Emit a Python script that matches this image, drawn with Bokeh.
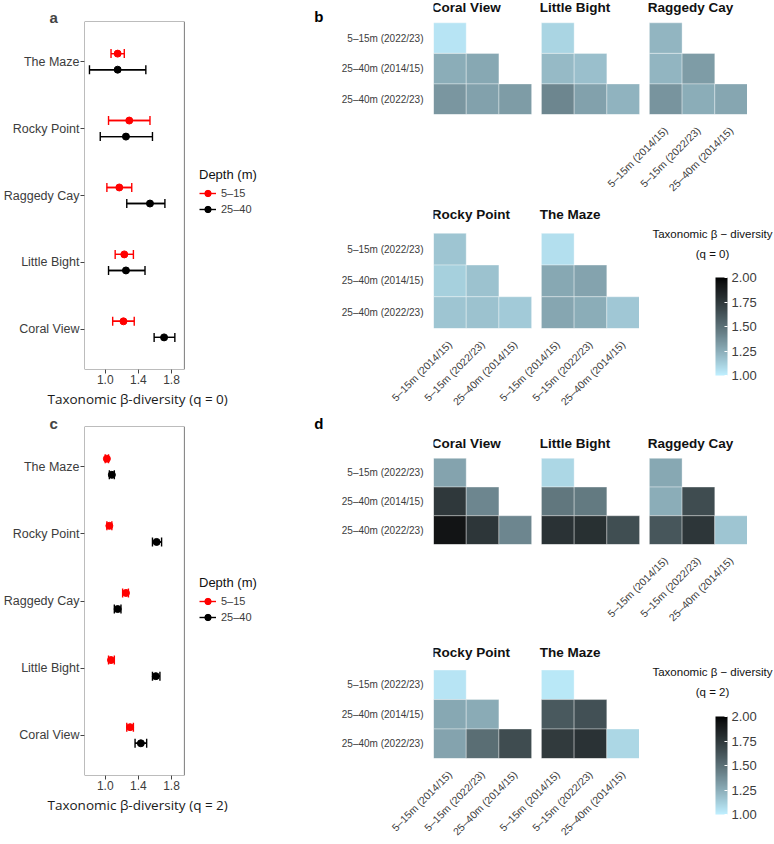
import math
import numpy as np
from bokeh.plotting import figure
from bokeh.models import (ColumnDataSource, Range1d, FixedTicker, NumeralTickFormatter, LinearAxis,
                          Whisker, TeeHead, Legend, LegendItem, LinearColorMapper, Title,
                          BoxAnnotation, ColorBar, Label)
from bokeh.layouts import row, column
from bokeh.core.properties import value
from bokeh.embed import file_html
from bokeh.resources import INLINE

# ---------------- data ----------------
sites = ["Coral View", "Little Bight", "Raggedy Cay", "Rocky Point", "The Maze"]
depth_labels = ["5–15", "25–40"]

# panel a : q = 0  (mean, lower, upper) in site order
q0_shallow = [1.22, 1.23, 1.17, 1.29, 1.15]
q0_shallow_lo = [1.09, 1.12, 1.02, 1.04, 1.07]
q0_shallow_hi = [1.35, 1.34, 1.32, 1.54, 1.23]
q0_deep = [1.71, 1.25, 1.54, 1.25, 1.15]
q0_deep_lo = [1.59, 1.04, 1.26, 0.94, 0.81]
q0_deep_hi = [1.84, 1.48, 1.72, 1.57, 1.49]

# panel c : q = 2
q2_shallow = [1.30, 1.07, 1.25, 1.05, 1.02]
q2_shallow_lo = [1.26, 1.04, 1.21, 1.02, 1.00]
q2_shallow_hi = [1.34, 1.11, 1.28, 1.08, 1.04]
q2_deep = [1.43, 1.61, 1.15, 1.62, 1.08]
q2_deep_lo = [1.36, 1.57, 1.11, 1.57, 1.05]
q2_deep_hi = [1.50, 1.66, 1.19, 1.68, 1.11]

x_ticks = [1.0, 1.4, 1.8]

# heatmaps
col_labels = ["5–15m (2014/15)", "5–15m (2022/23)", "25–40m (2014/15)"]
row_labels = ["5–15m (2022/23)", "25–40m (2014/15)", "25–40m (2022/23)"]
pair_col = [col_labels[0], col_labels[0], col_labels[1], col_labels[0], col_labels[1], col_labels[2]]
pair_row = [row_labels[0], row_labels[1], row_labels[1], row_labels[2], row_labels[2], row_labels[2]]

beta_q0 = {
    "Coral View":   [1.04, 1.25, 1.27, 1.34, 1.30, 1.32],
    "Little Bight": [1.10, 1.20, 1.18, 1.41, 1.30, 1.23],
    "Raggedy Cay":  [1.22, 1.22, 1.32, 1.35, 1.25, 1.28],
    "Rocky Point":  [1.16, 1.12, 1.17, 1.16, 1.17, 1.14],
    "The Maze":     [1.06, 1.27, 1.29, 1.28, 1.25, 1.15],
}
beta_q2 = {
    "Coral View":   [1.29, 1.75, 1.41, 1.93, 1.76, 1.41],
    "Little Bight": [1.09, 1.47, 1.46, 1.78, 1.79, 1.65],
    "Raggedy Cay":  [1.27, 1.25, 1.66, 1.61, 1.76, 1.16],
    "Rocky Point":  [1.04, 1.27, 1.26, 1.29, 1.51, 1.66],
    "The Maze":     [1.03, 1.60, 1.64, 1.74, 1.78, 1.09],
}
cb_ticks = [1.0, 1.25, 1.5, 1.75, 2.0]

FONT = "Liberation Sans"
TXT = "#3c3c3c"


# ---------------- colour ramp (CIELAB, like ggplot) ----------------
def _lin(c):
    return c / 12.92 if c <= 0.04045 else ((c + 0.055) / 1.055) ** 2.4


def _gam(c):
    return 12.92 * c if c <= 0.0031308 else 1.055 * c ** (1 / 2.4) - 0.055


def hex2lab(h):
    r, g, b = [_lin(int(h[i:i + 2], 16) / 255) for i in (1, 3, 5)]
    X = (0.4124 * r + 0.3576 * g + 0.1805 * b) / 0.95047
    Y = 0.2126 * r + 0.7152 * g + 0.0722 * b
    Z = (0.0193 * r + 0.1192 * g + 0.9505 * b) / 1.08883
    f = lambda t: t ** (1 / 3) if t > 0.008856 else 7.787 * t + 16 / 116
    fx, fy, fz = f(X), f(Y), f(Z)
    return 116 * fy - 16, 500 * (fx - fy), 200 * (fy - fz)


def lab2hex(L, a, b):
    fy = (L + 16) / 116
    fx = fy + a / 500
    fz = fy - b / 200
    finv = lambda t: t ** 3 if t ** 3 > 0.008856 else (t - 16 / 116) / 7.787
    X, Y, Z = finv(fx) * 0.95047, finv(fy), finv(fz) * 1.08883
    r = 3.2406 * X - 1.5372 * Y - 0.4986 * Z
    g = -0.9689 * X + 1.8758 * Y + 0.0415 * Z
    bb = 0.0557 * X - 0.2040 * Y + 1.0570 * Z
    out = [int(round(255 * min(1, max(0, _gam(max(0, c)))))) for c in (r, g, bb)]
    return "#%02x%02x%02x" % tuple(out)


low_lab = hex2lab("#BFEFFF")
high_lab = hex2lab("#000000")
palette = [lab2hex(*[lo + (hi - lo) * t for lo, hi in zip(low_lab, high_lab)])
           for t in np.linspace(0, 1, 256)]
mapper = LinearColorMapper(palette=palette, low=1.0, high=2.0)

COLORS = ["#ff0000", "#000000"]
X_LO, X_HI = 0.75, 1.955      # visible data window of panels a / c
PANEL_W, LEG_W = 101, 79      # px: data panel, legend area to its right


# ---------------- point-range panels ----------------
def pr_fig(sh, sh_lo, sh_hi, dp, dp_lo, dp_hi, xlabel, height, top, bottom, cap, letter,
           letter_standoff, leg_y):
    x_end = X_LO + (X_HI - X_LO) * (PANEL_W + LEG_W) / PANEL_W
    p = figure(width=82 + PANEL_W + LEG_W, height=height, x_range=Range1d(X_LO, x_end),
               y_range=Range1d(0.4, 5.6), toolbar_location=None, output_backend="svg",
               min_border_left=82, min_border_right=0, min_border_top=top, min_border_bottom=bottom)
    p.grid.visible = False
    p.outline_line_color = None
    p.add_layout(BoxAnnotation(left=X_LO, right=X_HI, bottom=0.4, top=5.6, fill_alpha=0,
                               line_color="#7a7a7a", line_alpha=1, line_width=1))
    items = []
    for means, los, his, col, off, lab in [(sh, sh_lo, sh_hi, COLORS[0], 0.12, depth_labels[0]),
                                           (dp, dp_lo, dp_hi, COLORS[1], -0.12, depth_labels[1])]:
        src = ColumnDataSource(dict(y=[i + 1 + off for i in range(len(sites))], m=means, lo=los, hi=his))
        rl = p.segment(x0="lo", y0="y", x1="hi", y1="y", source=src, line_color=col, line_width=1.4)
        w = Whisker(base="y", lower="lo", upper="hi", dimension="width", source=src,
                    line_color=col, line_width=1.4,
                    lower_head=TeeHead(size=cap, line_color=col, line_width=1.4),
                    upper_head=TeeHead(size=cap, line_color=col, line_width=1.4))
        p.add_layout(w)
        rp = p.scatter("m", "y", source=src, size=7, color=col)
        items.append(LegendItem(label=lab, renderers=[rl, rp]))

    leg = Legend(items=items, title="Depth (m)", location=(PANEL_W + 14, leg_y))
    leg.title_text_font = FONT
    leg.title_text_font_size = "13px"
    leg.title_text_font_style = "normal"
    leg.title_text_color = "#111111"
    leg.title_standoff = 3
    leg.label_text_font = FONT
    leg.label_text_font_size = "11px"
    leg.label_text_color = TXT
    leg.glyph_width = 17
    leg.glyph_height = 16
    leg.label_height = 16
    leg.spacing = 0
    leg.padding = 0
    leg.margin = 0
    leg.label_standoff = 5
    leg.border_line_color = None
    leg.background_fill_alpha = 0
    p.add_layout(leg)

    p.yaxis.ticker = FixedTicker(ticks=[i + 1 for i in range(len(sites))])
    p.yaxis.major_label_overrides = {i + 1: s for i, s in enumerate(sites)}
    p.xaxis.ticker = FixedTicker(ticks=x_ticks)
    p.xaxis.formatter = NumeralTickFormatter(format="0.0")
    for ax in (p.xaxis[0], p.yaxis[0]):
        ax.axis_line_color = None
        ax.major_tick_out = 4
        ax.major_tick_in = 0
        ax.major_tick_line_color = "#444444"
        ax.minor_tick_line_color = None
        ax.major_label_text_font = FONT
        ax.major_label_text_font_size = "12.5px"
        ax.major_label_text_color = TXT
        ax.major_label_standoff = 1
    p.xaxis.major_label_text_font_size = "12px"
    p.xaxis.major_label_standoff = 1
    # x-axis title, left-aligned under the data panel like the original
    p.add_layout(Title(text=xlabel, align="left", offset=-37, standoff=3,
                       text_font="Open Sans", text_font_size="13.5px", text_font_style="normal",
                       text_color="#1a1a1a"), "below")
    p.title.text = letter
    p.title.align = "left"
    p.title.offset = -35
    p.title.standoff = letter_standoff
    p.title.text_font = FONT
    p.title.text_font_size = "15px"
    p.title.text_font_style = "bold"
    return p


# ---------------- heatmap rows (facets of one row share one frame) ----------------
U = 32.7      # pixels per tile
G = 0.3       # gap between facets, in tiles
col_idx = [col_labels.index(c) for c in pair_col]
row_idx = [row_labels.index(r) for r in pair_row]


def heat_row(beta, facets, xlab_facets, height, title_c, tiles_top, letter=None, letter_c=0):
    nf = len(facets)
    xend = nf * 3 + (nf - 1) * G
    fw = int(round(xend * U))
    fh = tiles_top + 98
    p = figure(width=171 + fw, height=height,
               x_range=Range1d(0, xend), y_range=Range1d(0, fh / U),
               toolbar_location=None, output_backend="svg",
               min_border_left=171, min_border_right=0, min_border_top=0,
               min_border_bottom=height - fh)
    xs, ys, vs = [], [], []
    for k, site in enumerate(facets):
        for c, r, v in zip(col_idx, row_idx, beta[site]):
            xs.append(k * (3 + G) + c + 0.5)
            ys.append(2 - r + 0.5)
            vs.append(v)
    src = ColumnDataSource(dict(x=xs, y=ys, v=vs))
    p.rect(x="x", y="y", width=1, height=1, source=src,
           fill_color={"field": "v", "transform": mapper},
           line_color="white", line_width=0.7, line_alpha=0.5)
    tsrc = ColumnDataSource(dict(x=[k * (3 + G) - 0.05 for k in range(nf)],
                                 y=[3 + (tiles_top - title_c) / U] * nf, t=facets))
    p.text(x="x", y="y", text="t", source=tsrc, text_font=value(FONT), text_font_size="13.5px",
           text_font_style="bold", text_align="left", text_baseline="middle", text_color="#111111")
    p.grid.visible = False
    p.outline_line_color = None
    ticks, over = [], {}
    for k, site in enumerate(facets):
        if site in xlab_facets:
            for c in range(3):
                t = round(k * (3 + G) + c + 0.5, 4)
                ticks.append(t)
                over[t] = col_labels[c]
    p.xaxis.ticker = FixedTicker(ticks=ticks)
    p.xaxis.major_label_overrides = over
    p.yaxis.ticker = FixedTicker(ticks=[2.5, 1.5, 0.5])
    p.yaxis.major_label_overrides = {2.5: row_labels[0], 1.5: row_labels[1], 0.5: row_labels[2]}
    for ax in (p.xaxis[0], p.yaxis[0]):
        ax.axis_line_color = None
        ax.major_tick_line_color = None
        ax.minor_tick_line_color = None
        ax.major_label_text_font = FONT
        ax.major_label_text_font_size = "10.5px"
        ax.major_label_text_color = TXT
    p.yaxis.major_label_text_font_size = "10px"
    p.yaxis.major_tick_out = 0
    p.yaxis.major_label_standoff = 10
    p.xaxis.major_label_standoff = 8
    p.xaxis.major_label_orientation = math.pi / 4
    if not ticks:
        p.xaxis.visible = False
    if letter:
        yl = round((fh - letter_c) / U, 4)
        lax = LinearAxis(ticker=FixedTicker(ticks=[yl]), major_label_overrides={yl: letter},
                         axis_line_color=None, major_tick_line_color=None, minor_tick_line_color=None,
                         major_tick_out=0, major_tick_in=0,
                         major_label_text_font=FONT, major_label_text_font_size="15px",
                         major_label_text_font_style="bold", major_label_text_color="#000000",
                         major_label_standoff=15)
        p.add_layout(lax, "left")
    return p


def cb_fig(q, height, bar_bottom, t1_y, t2_y):
    # a blank frame that carries Bokeh's own ColorBar and its two-line title
    p = figure(width=135, height=height, x_range=Range1d(0, 1), y_range=Range1d(0, 1),
               toolbar_location=None, output_backend="svg",
               min_border_left=0, min_border_right=0, min_border_top=0, min_border_bottom=0)
    p.axis.visible = False
    p.grid.visible = False
    p.outline_line_color = None
    cb = ColorBar(color_mapper=mapper, width=12, height=98, location=(76, bar_bottom),
                  ticker=FixedTicker(ticks=cb_ticks), formatter=NumeralTickFormatter(format="0.00"),
                  padding=0, margin=0, bar_line_color=None, background_fill_alpha=0,
                  major_tick_in=3, major_tick_out=0, major_tick_line_color="white",
                  minor_tick_line_color=None, label_standoff=4,
                  major_label_text_font=FONT, major_label_text_font_size="13px",
                  major_label_text_color=TXT)
    p.add_layout(cb)
    for txt, ty in [("Taxonomic β − diversity", t1_y), ("(q = %d)" % q, t2_y)]:
        p.add_layout(Label(x=73, y=ty, x_units="screen", y_units="screen", text=txt,
                           text_align="center", text_baseline="middle", text_font=FONT,
                           text_font_size="11.5px", text_color="#111111"))
    return p


pa = pr_fig(q0_shallow, q0_shallow_lo, q0_shallow_hi, q0_deep, q0_deep_lo, q0_deep_hi,
            "Taxonomic β-diversity (q =  0)", 414, 21, 45, 9, "a", -9, 152)
pc = pr_fig(q2_shallow, q2_shallow_lo, q2_shallow_hi, q2_deep, q2_deep_lo, q2_deep_hi,
            "Taxonomic β-diversity (q =  2)", 430, 12, 69, 9, "c", -10, 150)

b1 = heat_row(beta_q0, sites[:3], ["Raggedy Cay"], 200, 7.5, 24, "b", 17)
b2 = heat_row(beta_q0, sites[3:], ["Rocky Point", "The Maze"], 214, 15, 34)
bcb = cb_fig(0, 214, 39, 181, 161)
d1 = heat_row(beta_q2, sites[:3], ["Raggedy Cay"], 216, 33, 50, "d", 9)
d2 = heat_row(beta_q2, sites[3:], ["Rocky Point", "The Maze"], 214, 25, 44)
dcb = cb_fig(2, 214, 30, 173, 153)

layout = column(row(pa, column(b1, row(b2, column(bcb)))),
                row(pc, column(d1, row(d2, column(dcb)))))
open("out.html", "w").write(file_html(layout, INLINE))
